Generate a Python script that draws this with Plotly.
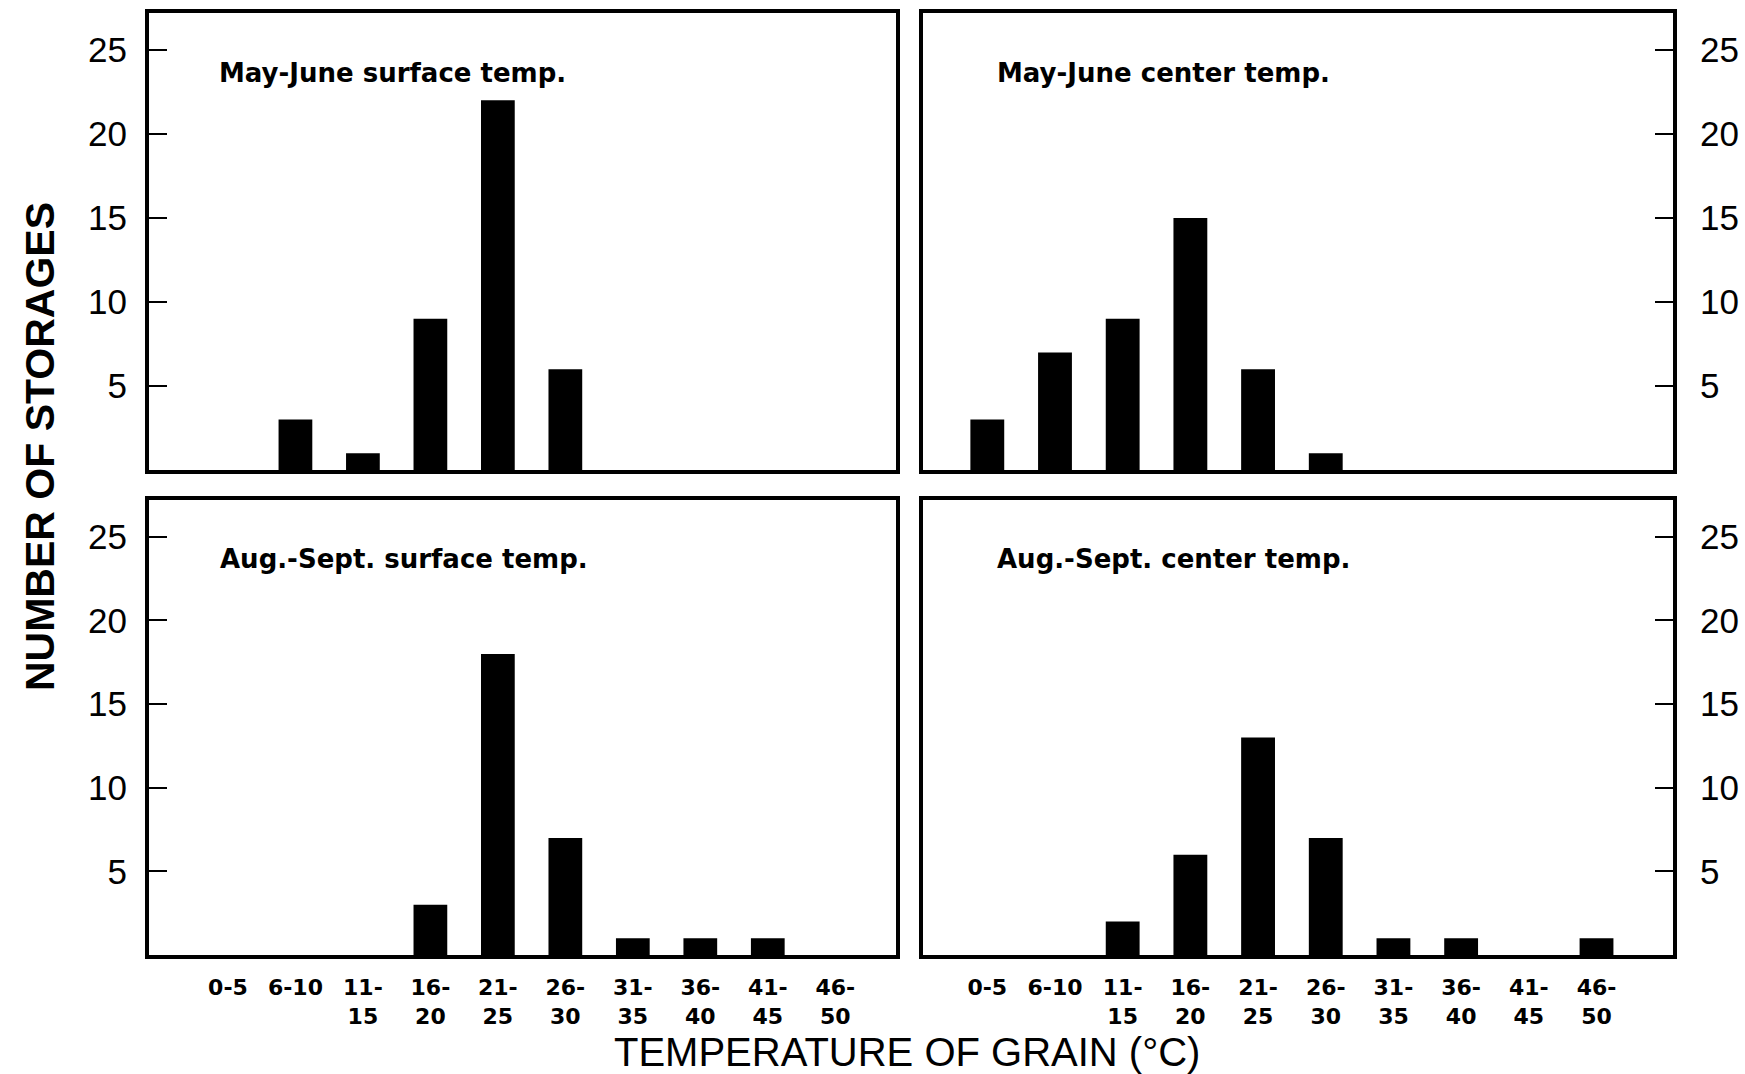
import plotly.graph_objects as go

W, H = 1745, 1074

categories = ["0-5", "6-10", "11-15", "16-20", "21-25", "26-30", "31-35", "36-40", "41-45", "46-50"]
tick_labels = ["0-5", "6-10", "11-<br>15", "16-<br>20", "21-<br>25", "26-<br>30",
               "31-<br>35", "36-<br>40", "41-<br>45", "46-<br>50"]

may_june_surface = [0, 3, 1, 9, 22, 6, 0, 0, 0, 0]
may_june_center = [3, 7, 9, 15, 6, 1, 0, 0, 0, 0]
aug_sept_surface = [0, 0, 0, 3, 18, 7, 1, 1, 1, 0]
aug_sept_center = [0, 0, 2, 6, 13, 7, 1, 1, 0, 1]

panel_titles = ["May-June surface temp.", "May-June center temp.",
                "Aug.-Sept. surface temp.", "Aug.-Sept. center temp."]
y_ticks = [5, 10, 15, 20, 25]


def px_x(p):
    return p / W


def px_y(p):
    return 1 - p / H


fig = go.Figure()

# panel pixel boxes: (x0, x1, y_top, y_bottom)
boxes = {
    1: (149, 896, 13, 470),
    2: (923, 1673, 13, 470),
    3: (149, 896, 500, 955),
    4: (923, 1673, 500, 955),
}
series = {1: may_june_surface, 2: may_june_center, 3: aug_sept_surface, 4: aug_sept_center}
xranges = {1: [-1.17, 9.9], 2: [-0.95, 10.13], 3: [-1.17, 9.9], 4: [-0.95, 10.13]}

idx = list(range(len(categories)))
for k in range(1, 5):
    xa = "x" if k == 1 else f"x{k}"
    ya = "y" if k == 1 else f"y{k}"
    fig.add_trace(go.Bar(x=idx, y=series[k], width=0.5, marker=dict(color="black", line=dict(width=0)),
                         xaxis=xa, yaxis=ya, showlegend=False,
                         hovertext=categories))

layout = {}
for k in range(1, 5):
    x0, x1, yt, yb = boxes[k]
    xname = "xaxis" if k == 1 else f"xaxis{k}"
    yname = "yaxis" if k == 1 else f"yaxis{k}"
    right = k in (2, 4)
    bottom = k in (3, 4)
    layout[xname] = dict(
        domain=[px_x(x0), px_x(x1)], range=xranges[k],
        anchor="y" if k == 1 else f"y{k}",
        showline=True, mirror=True, linewidth=4, linecolor="black",
        showgrid=False, zeroline=False, ticks="",
        tickmode="array", tickvals=idx, ticktext=tick_labels,
        showticklabels=bottom,
        tickfont=dict(family="DejaVu Sans", size=22, color="black", weight="bold"),
        ticklabelstandoff=10,
    )
    layout[yname] = dict(
        domain=[px_y(yb), px_y(yt)], range=[0, 27.2],
        anchor="x" if k == 1 else f"x{k}",
        side="right" if right else "left",
        showline=True, mirror=True, linewidth=4, linecolor="black",
        showgrid=False, zeroline=False,
        ticks="inside", ticklen=18, tickwidth=2, tickcolor="black",
        tickmode="array", tickvals=y_ticks,
        tickfont=dict(family="Liberation Sans", size=35, color="black"),
        ticklabelstandoff=11 if not right else 16,
    )

ann = []
ann_pos = {1: (217, 73), 2: (995, 73), 3: (218, 559), 4: (995, 559)}
for k in range(1, 5):
    x, y = ann_pos[k]
    ann.append(dict(text=panel_titles[k - 1], x=px_x(x), y=px_y(y), xref="paper", yref="paper",
                    xanchor="left", yanchor="middle", showarrow=False,
                    font=dict(family="DejaVu Sans", size=26, color="black", weight="bold")))

ann.append(dict(text="TEMPERATURE OF GRAIN (°C)", x=px_x(907), y=px_y(1052), xref="paper", yref="paper",
                xanchor="center", yanchor="middle", showarrow=False,
                font=dict(family="Liberation Sans", size=40, color="black")))
ann.append(dict(text="NUMBER OF STORAGES", x=px_x(40), y=px_y(447), xref="paper", yref="paper",
                xanchor="center", yanchor="middle", showarrow=False, textangle=-90,
                font=dict(family="Liberation Sans", size=41, color="black", weight="bold")))

fig.update_layout(
    width=W, height=H,
    margin=dict(l=0, r=0, t=0, b=0),
    paper_bgcolor="white", plot_bgcolor="white",
    bargap=0.5,
    annotations=ann,
    **layout,
)

fig.write_html("out.html",
               config={"displayModeBar": False},
               post_script="document.body.style.margin='0';document.body.style.padding='0';"
                           "document.documentElement.style.overflow='hidden';")
